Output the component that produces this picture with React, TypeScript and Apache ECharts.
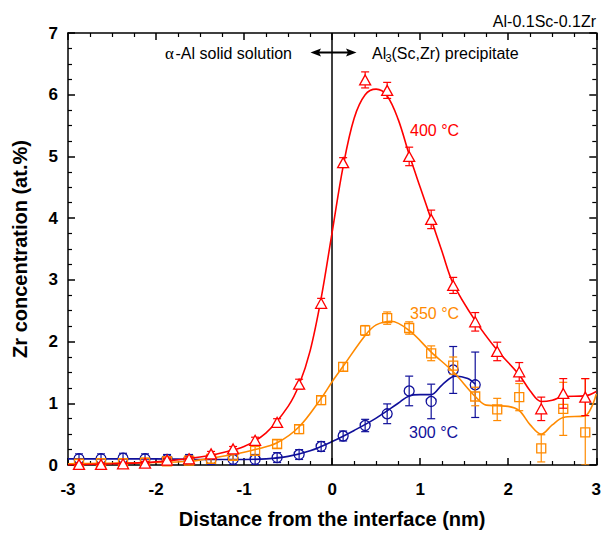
import React, { useEffect, useRef } from 'react';
import * as echarts from 'echarts';

// Sample positions (nm)
const xPos = [-2.875, -2.625, -2.375, -2.125, -1.875, -1.625, -1.375, -1.125, -0.875, -0.625, -0.375, -0.125,
  0.125, 0.375, 0.625, 0.875, 1.125, 1.375, 1.625, 1.875, 2.125, 2.375, 2.625, 2.875];

// 400 °C
const zr400 = [0.01, 0.01, 0.02, 0.03, 0.08, 0.10, 0.18, 0.26, 0.40, 0.69, 1.31, 2.62,
  4.90, 6.24, 6.07, 5.00, 3.98, 2.91, 2.32, 1.84, 1.51, 0.91, 1.16, 1.10];
const err400 = [0.02, 0.02, 0.02, 0.03, 0.03, 0.03, 0.04, 0.04, 0.05, 0.06, 0.08, 0.08,
  0.08, 0.13, 0.13, 0.15, 0.15, 0.13, 0.15, 0.15, 0.15, 0.19, 0.24, 0.30];

// 350 °C
const zr350 = [0.02, 0.03, 0.03, 0.04, 0.06, 0.07, 0.10, 0.15, 0.23, 0.34, 0.58, 1.05,
  1.59, 2.18, 2.38, 2.22, 1.81, 1.61, 1.11, 0.90, 1.10, 0.27, 0.91, 0.53];
const err350 = [0.07, 0.07, 0.07, 0.07, 0.07, 0.07, 0.07, 0.07, 0.07, 0.07, 0.07, 0.07,
  0.07, 0.08, 0.10, 0.10, 0.12, 0.14, 0.15, 0.18, 0.22, 0.22, 0.43, 0.87];

// 300 °C
const zr300 = [0.10, 0.10, 0.11, 0.10, 0.09, 0.09, 0.09, 0.09, 0.09, 0.12, 0.17, 0.30,
  0.47, 0.64, 0.83, 1.20, 1.03, 1.54, 1.30];
const err300 = [0.08, 0.08, 0.08, 0.08, 0.08, 0.08, 0.08, 0.08, 0.08, 0.08, 0.08, 0.08,
  0.08, 0.10, 0.16, 0.24, 0.28, 0.38, 0.53];

// Fitted curves
const fit400X = [-3, -2.5, -2, -1.5, -1.25, -1, -0.75, -0.5, -0.375, -0.25, -0.125, 0, 0.125, 0.25, 0.375, 0.5,
  0.625, 0.75, 0.875, 1, 1.125, 1.25, 1.375, 1.625, 1.875, 2.125, 2.25, 2.375, 2.5, 2.625, 2.875, 3];
const fit400Y = [0.0, 0.02, 0.05, 0.13, 0.2, 0.3, 0.52, 0.95, 1.3, 1.85, 2.7, 3.77, 4.84, 5.62, 6.0, 6.09,
  5.98, 5.6, 5.03, 4.5, 3.98, 3.45, 2.94, 2.34, 1.86, 1.46, 1.2, 1.03, 1.05, 1.11, 1.12, 1.19];

const fit350X = [-3, -2, -1.625, -1.375, -1.125, -0.875, -0.625, -0.375, -0.125, 0, 0.125, 0.375, 0.5, 0.67,
  0.875, 1.125, 1.375, 1.625, 1.75, 1.875, 2.0, 2.125, 2.25, 2.375, 2.5, 2.625, 2.875, 2.95, 3];
const fit350Y = [0.02, 0.04, 0.06, 0.11, 0.17, 0.25, 0.36, 0.62, 1.08, 1.35, 1.6, 2.1, 2.27, 2.33,
  2.18, 1.83, 1.51, 1.11, 0.97, 0.96, 0.95, 0.88, 0.65, 0.5, 0.65, 0.77, 0.8, 0.95, 1.15];

const fit300X = [-3, -2.5, -2, -1.5, -1, -0.75, -0.5, -0.25, 0, 0.25, 0.5, 0.75, 0.875, 1.0, 1.125, 1.25, 1.4, 1.54, 1.625];
const fit300Y = [0.1, 0.1, 0.1, 0.09, 0.09, 0.1, 0.14, 0.23, 0.38, 0.56, 0.76, 1.0, 1.12, 1.14, 1.14, 1.3, 1.44, 1.4, 1.31];

const xTicks = { min: -3, max: 3, interval: 1 };
const yTicks = { min: 0, max: 7, interval: 1 };

const RED = '#ff0000';
const ORANGE = '#ff8a00';
const BLUE = '#10109a';
const FONT = '"Liberation Sans", Arial, sans-serif';

function errorSeries(xs: number[], ys: number[], errs: number[], color: string, z: number) {
  return {
    type: 'custom',
    z,
    silent: true,
    clip: true,
    encode: { x: 0, y: 1 },
    data: ys.map((y, i) => [xs[i], y, errs[i]]),
    renderItem: (params: any, api: any) => {
      const x = api.value(0);
      const y = api.value(1);
      const e = api.value(2);
      const top = api.coord([x, y + e]);
      const bot = api.coord([x, Math.max(0, y - e)]);
      const hw = 4;
      const st = { stroke: color, lineWidth: 1.2 };
      return {
        type: 'group',
        children: [
          { type: 'line', shape: { x1: top[0], y1: top[1], x2: bot[0], y2: bot[1] }, style: st },
          { type: 'line', shape: { x1: top[0] - hw, y1: top[1], x2: top[0] + hw, y2: top[1] }, style: st },
          { type: 'line', shape: { x1: bot[0] - hw, y1: bot[1], x2: bot[0] + hw, y2: bot[1] }, style: st },
        ],
      };
    },
  };
}

function fitSeries(xs: number[], ys: number[], color: string, z: number, extra: any = {}) {
  return {
    type: 'line',
    z,
    smooth: 0.35,
    showSymbol: false,
    silent: true,
    data: ys.map((y, i) => [xs[i], y]),
    lineStyle: { color, width: 1.6 },
    ...extra,
  };
}

function markerSeries(xs: number[], ys: number[], color: string, symbol: string, size: any, fill: string, z: number) {
  return {
    type: 'scatter',
    z,
    silent: true,
    symbol,
    symbolSize: size,
    data: ys.map((y, i) => [xs[i], y]),
    itemStyle: { color: fill, borderColor: color, borderWidth: 1.3, opacity: 1 },
  };
}

function xAxisDef(position: 'top' | 'bottom', showLabel: boolean) {
  return {
    type: 'value',
    position,
    ...xTicks,
    axisLine: { show: true, onZero: false, lineStyle: { color: '#000', width: 1.5 } },
    axisTick: { show: true, inside: true, length: 7, lineStyle: { color: '#000', width: 1.5 } },
    minorTick: { show: true, splitNumber: 4, length: 4, lineStyle: { color: '#000', width: 1.2 } },
    splitLine: { show: false },
    axisLabel: {
      show: showLabel, color: '#000', fontSize: 17, fontWeight: 'bold', fontFamily: FONT, margin: 16,
    },
    name: showLabel ? 'Distance from the interface (nm)' : '',
    nameLocation: 'middle',
    nameGap: 44,
    nameTextStyle: { color: '#000', fontSize: 20, fontWeight: 'bold', fontFamily: FONT },
  };
}

function yAxisDef(position: 'left' | 'right', showLabel: boolean) {
  return {
    type: 'value',
    position,
    ...yTicks,
    axisLine: { show: true, onZero: false, lineStyle: { color: '#000', width: 1.5 } },
    axisTick: { show: true, inside: true, length: 7, lineStyle: { color: '#000', width: 1.5 } },
    minorTick: { show: true, splitNumber: 4, length: 4, lineStyle: { color: '#000', width: 1.2 } },
    splitLine: { show: false },
    axisLabel: {
      show: showLabel, color: '#000', fontSize: 17, fontWeight: 'bold', fontFamily: FONT, margin: 10,
    },
    name: showLabel ? 'Zr concentration (at.%)' : '',
    nameLocation: 'middle',
    nameGap: 38,
    nameRotate: 90,
    nameTextStyle: { color: '#000', fontSize: 20, fontWeight: 'bold', fontFamily: FONT },
  };
}

export default function App() {
  const ref = useRef<HTMLDivElement>(null);
  useEffect(() => {
    document.body.style.margin = '0';
    if (!ref.current) return;
    const chart = echarts.init(ref.current, null, { renderer: 'svg' });
    const arrowY = 52.5;
    chart.setOption({
      animation: false,
      backgroundColor: '#fff',
      grid: { left: 68, right: 4, top: 33, bottom: 67, containLabel: false },
      xAxis: [xAxisDef('bottom', true), xAxisDef('top', false)],
      yAxis: [yAxisDef('left', true), yAxisDef('right', false)],
      series: [
        fitSeries(fit300X, fit300Y, BLUE, 2, {
          markLine: {
            symbol: 'none', silent: true, label: { show: false },
            lineStyle: { color: '#000', width: 1.5, type: 'solid' },
            data: [{ xAxis: 0 }],
          },
        }),
        errorSeries(xPos, zr300, err300, BLUE, 3),
        markerSeries(xPos, zr300, BLUE, 'circle', 10, 'rgba(255,255,255,0)', 4),
        fitSeries(fit350X, fit350Y, ORANGE, 5),
        errorSeries(xPos, zr350, err350, ORANGE, 6),
        markerSeries(xPos, zr350, ORANGE, 'rect', 9, 'rgba(255,255,255,0)', 7),
        fitSeries(fit400X, fit400Y, RED, 8),
        errorSeries(xPos, zr400, err400, RED, 9),
        markerSeries(xPos, zr400, RED, 'triangle', [11, 10], '#ffffff', 10),
      ],
      graphic: [
        { type: 'text', x: 596, y: 21, style: { text: 'Al-0.1Sc-0.1Zr', fill: '#000', fontSize: 16, fontFamily: FONT, align: 'right', verticalAlign: 'middle' } },
        { type: 'text', x: 165, y: 53, style: { text: 'α', fill: '#000', fontSize: 17, fontFamily: '"Liberation Serif", serif', align: 'left', verticalAlign: 'middle' } },
        { type: 'text', x: 175.5, y: 53, style: { text: '-Al solid solution', fill: '#000', fontSize: 16, fontFamily: FONT, align: 'left', verticalAlign: 'middle' } },
        { type: 'text', x: 372, y: 53, style: { text: 'Al', fill: '#000', fontSize: 16, fontFamily: FONT, align: 'left', verticalAlign: 'middle' } },
        { type: 'text', x: 385.5, y: 58, style: { text: '3', fill: '#000', fontSize: 11, fontFamily: FONT, align: 'left', verticalAlign: 'middle' } },
        { type: 'text', x: 391.5, y: 53, style: { text: '(Sc,Zr) precipitate', fill: '#000', fontSize: 16, fontFamily: FONT, align: 'left', verticalAlign: 'middle' } },
        { type: 'line', shape: { x1: 318, y1: arrowY, x2: 349, y2: arrowY }, style: { stroke: '#000', lineWidth: 2 } },
        { type: 'polygon', shape: { points: [[310.5, arrowY], [321, arrowY - 4], [319, arrowY], [321, arrowY + 4]] }, style: { fill: '#000' } },
        { type: 'polygon', shape: { points: [[356.5, arrowY], [346, arrowY - 4], [348, arrowY], [346, arrowY + 4]] }, style: { fill: '#000' } },
        { type: 'text', x: 410, y: 130.5, style: { text: '400 °C', fill: RED, fontSize: 16, fontFamily: FONT, align: 'left', verticalAlign: 'middle' } },
        { type: 'text', x: 410, y: 313.5, style: { text: '350 °C', fill: ORANGE, fontSize: 16, fontFamily: FONT, align: 'left', verticalAlign: 'middle' } },
        { type: 'text', x: 409, y: 432, style: { text: '300 °C', fill: BLUE, fontSize: 16, fontFamily: FONT, align: 'left', verticalAlign: 'middle' } },
      ],
    });
    return () => chart.dispose();
  }, []);
  return <div ref={ref} style={{ width: 604, height: 534 }} />;
}
